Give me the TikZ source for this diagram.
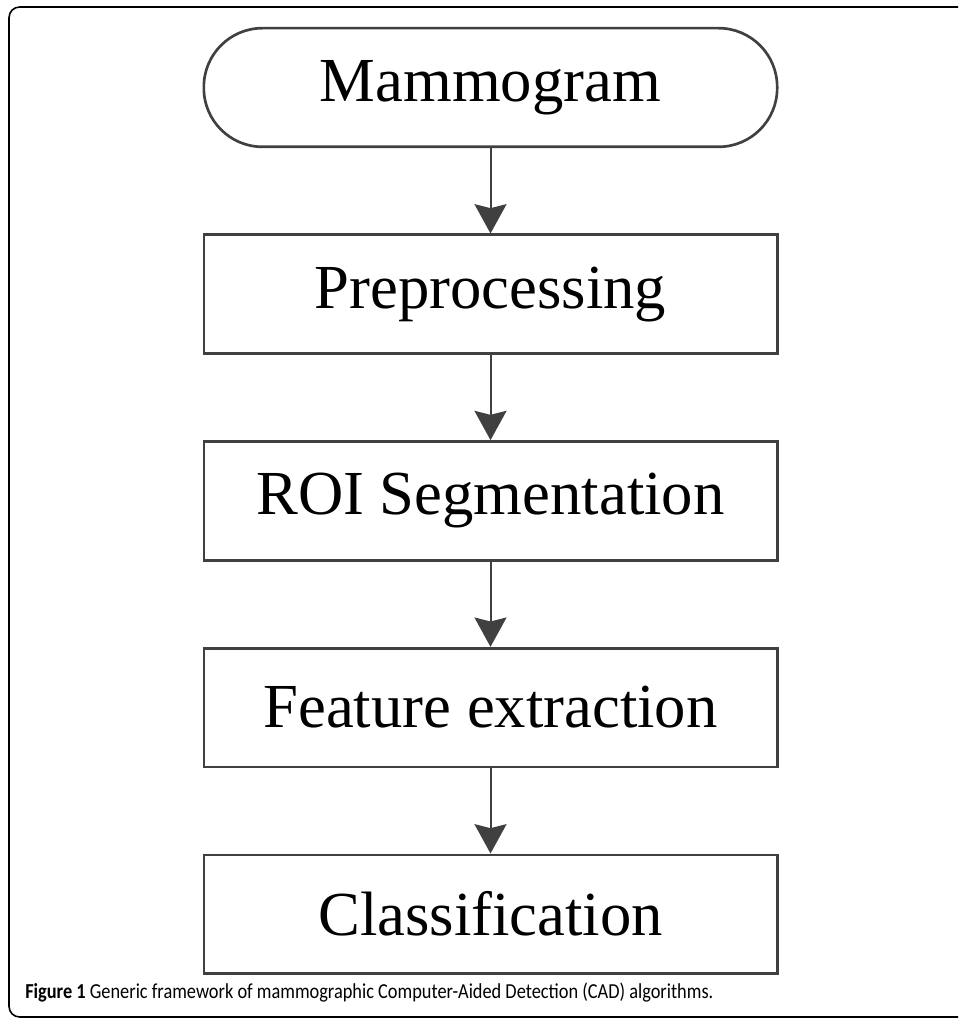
\documentclass[tikz,border=0pt]{standalone}
\usepackage{fontspec}
\setmainfont{Liberation Serif}
\newfontfamily\capfont[FakeStretch=0.86]{Carlito}
\usetikzlibrary{positioning}
\usetikzlibrary{arrows.meta}
\definecolor{linegray}{RGB}{64,64,64}
\tikzset{
  stage/.style={draw=linegray, line width=2pt, minimum width=430pt, minimum height=89pt,
    inner sep=0pt, font=\fontsize{47}{50}\selectfont},
  terminal/.style={stage, rounded corners=44pt},
  flow/.style={draw=linegray, line width=1.5pt, -{Stealth[width=24pt,length=22pt,inset=3pt]}}
}

\begin{document}
\begin{tikzpicture}[x=0.75pt, y=-0.75pt]
  \useasboundingbox (0,0) rectangle (958,1019);
  \clip (0,0) rectangle (958,1019);

  % outer frame
  \draw [line width=1.2pt, rounded corners=8pt] (9,7) rectangle (990,1017);

  \node [terminal] at (490.5,87.5) (mammo) {Mammogram};
  \node [stage, below=64pt of mammo] (prep) {Preprocessing};
  \node [stage, below=64pt of prep] (roi) {ROI Segmentation};
  \node [stage, below=64pt of roi] (feat) {Feature extraction};
  \node [stage, below=64pt of feat] (cls) {Classification};

  \draw [flow] (mammo.south) -- (prep.north);
  \draw [flow] (prep.south) -- (roi.north);
  \draw [flow] (roi.south) -- (feat.north);
  \draw [flow] (feat.south) -- (cls.north);

  \node [anchor=base west, inner sep=0pt, font=\capfont\fontsize{16}{18}\selectfont] at (25,998) (caption)
    {\textbf{Figure 1} Generic framework of mammographic Computer-Aided Detection (CAD) algorithms.};
\end{tikzpicture}
\end{document}
